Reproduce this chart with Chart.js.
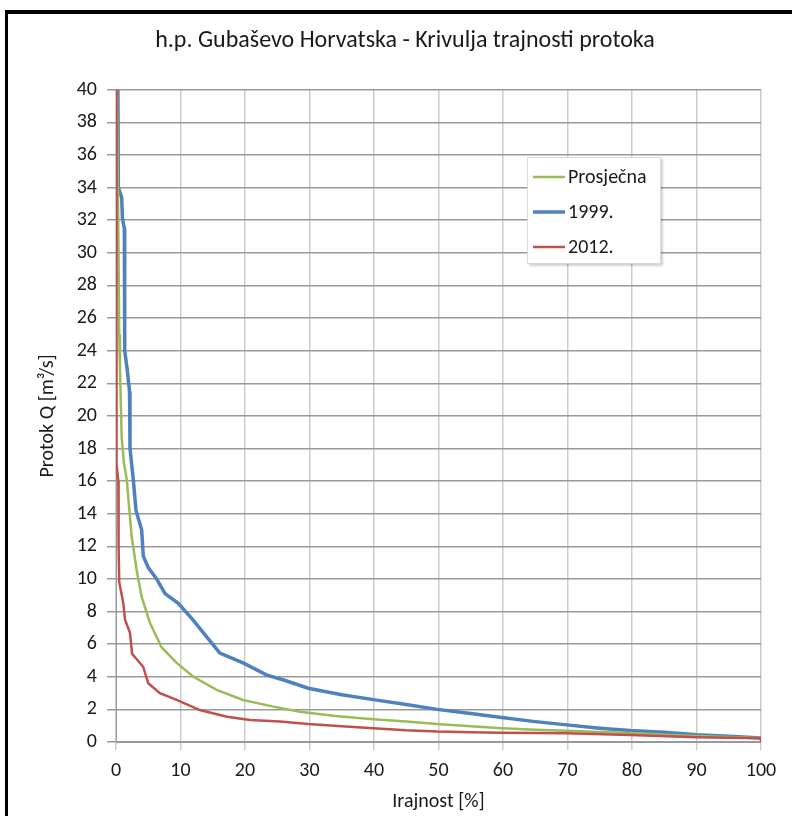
<!DOCTYPE html>
<html>
<head>
<meta charset="utf-8">
<script src="https://cdn.jsdelivr.net/npm/chart.js@4.4.0/dist/chart.umd.min.js"></script>
<style>
  body { margin: 0; background: #fff; }
  #wrap { position: relative; width: 792px; height: 816px; overflow: hidden; }
  #frame {
    position: absolute; left: 5px; top: 10px; width: 820px; height: 830px;
    border-top: 4px solid #000; border-left: 3px solid #000;
    pointer-events: none;
  }
  canvas { position: absolute; left: 0; top: 0; }
</style>
</head>
<body>
<div id="wrap">
  <canvas id="chart" width="792" height="816"></canvas>
  <div id="frame"></div>
</div>
<script>
// duration (%) and flow Q (m3/s)
const avgX = [0.15, 0.3, 0.5, 0.62, 0.88, 1.2, 1.66, 2.43, 3.2, 3.98, 5.27, 7.09, 9.4, 12.0, 15.6, 19.7, 24.4, 28.5, 34, 39.9, 45, 49.8, 55, 59.8, 65, 69.9, 75, 79.7, 85, 90, 95, 100];
const avgQ = [40, 34, 25, 22.8, 18.7, 17.2, 16.1, 12.6, 10.55, 8.9, 7.3, 5.8, 4.85, 4.0, 3.2, 2.58, 2.17, 1.86, 1.6, 1.4, 1.25, 1.1, 0.97, 0.85, 0.75, 0.69, 0.62, 0.55, 0.45, 0.37, 0.3, 0.25];

const x1999 = [0.3, 0.36, 0.88, 1.0, 1.29, 1.35, 1.75, 2.1, 2.17, 2.68, 3.1, 3.98, 4.23, 5.0, 6.3, 7.6, 9.66, 11.9, 14.06, 16.1, 19.7, 23.4, 26, 29.8, 35, 39.9, 45, 49.8, 55, 59.8, 65, 69.9, 75, 79.7, 85, 90, 95, 100];
const q1999 = [40, 34, 33.4, 32.1, 31.5, 24, 22.8, 21.5, 18, 16.1, 14.2, 13.0, 11.4, 10.7, 10, 9.1, 8.5, 7.5, 6.45, 5.45, 4.85, 4.1, 3.8, 3.3, 2.9, 2.6, 2.3, 2.0, 1.75, 1.5, 1.25, 1.05, 0.85, 0.7, 0.6, 0.45, 0.35, 0.25];

const x2012 = [0, 0.05, 0.1, 0.1, 0.36, 0.4, 0.5, 0.9, 1.13, 1.4, 2.17, 2.5, 2.95, 4.23, 5.0, 6.8, 9.4, 13, 17.2, 20.8, 25.4, 29.8, 35, 39.9, 45, 49.8, 55, 59.8, 69.9, 79.7, 90, 100, 100];
const q2012 = [40, 22, 20.5, 17, 16, 12, 9.8, 9, 8.5, 7.5, 6.7, 5.4, 5.2, 4.6, 3.6, 3.0, 2.58, 1.96, 1.55, 1.35, 1.25, 1.1, 0.97, 0.85, 0.72, 0.64, 0.6, 0.57, 0.53, 0.43, 0.29, 0.23, 0];

const seriesNames = ["Prosječna", "1999.", "2012."];
const xTicks = [0, 10, 20, 30, 40, 50, 60, 70, 80, 90, 100];
const yTicks = [0, 2, 4, 6, 8, 10, 12, 14, 16, 18, 20, 22, 24, 26, 28, 30, 32, 34, 36, 38, 40];

const FONT = "Carlito, Lato, sans-serif";

function pts(xs, qs) {
  return xs.map((x, i) => ({ x: x, y: qs[i] }));
}

// legend box inside the plot, like the original
const boxLegend = {
  id: "boxLegend",
  afterDatasetsDraw(chart) {
    const ctx = chart.ctx;
    const bx = 527, by = 157, bw = 134, bh = 107;
    ctx.save();
    ctx.shadowColor = "rgba(0,0,0,0.18)";
    ctx.shadowOffsetX = 2;
    ctx.shadowOffsetY = 2;
    ctx.shadowBlur = 2;
    ctx.fillStyle = "#fff";
    ctx.fillRect(bx, by, bw, bh);
    ctx.restore();
    ctx.save();
    ctx.strokeStyle = "#d9d9d9";
    ctx.lineWidth = 1;
    ctx.strokeRect(bx + 0.5, by + 0.5, bw - 1, bh - 1);
    ctx.font = "20px " + FONT;
    ctx.textBaseline = "middle";
    ctx.fillStyle = "#1a1a1a";
    chart.data.datasets.forEach((ds, i) => {
      const y = 177 + i * 35;
      ctx.strokeStyle = ds.borderColor;
      ctx.lineWidth = ds.borderWidth;
      ctx.beginPath();
      ctx.moveTo(533, y);
      ctx.lineTo(565, y);
      ctx.stroke();
      ctx.fillText(ds.label, 568, y + 1);
    });
    ctx.restore();
  }
};

new Chart(document.getElementById("chart"), {
  type: "scatter",
  data: {
    datasets: [
      { label: seriesNames[0], data: pts(avgX, avgQ), borderColor: "#9bbb59", borderWidth: 2.5, order: 1 },
      { label: seriesNames[1], data: pts(x1999, q1999), borderColor: "#4f81bd", borderWidth: 3.5, order: 2 },
      { label: seriesNames[2], data: pts(x2012, q2012), borderColor: "#c0504d", borderWidth: 2.5, order: 0 }
    ].map(d => Object.assign(d, { showLine: true, pointRadius: 0, tension: 0, fill: false }))
  },
  options: {
    responsive: false,
    animation: false,
    layout: { padding: { left: 0, right: -18, top: 0, bottom: 0 } },
    plugins: {
      legend: { display: false },
      tooltip: { enabled: false },
      title: {
        display: true,
        text: "h.p. Gubaševo Horvatska - Krivulja trajnosti protoka",
        color: "#1a1a1a",
        font: { family: FONT, size: 24, weight: "normal" },
        padding: { top: 27, bottom: 34 }
      }
    },
    scales: {
      x: {
        type: "linear",
        min: 0, max: 100,
        afterBuildTicks: s => { s.ticks = xTicks.map(v => ({ value: v })); },
        afterFit: s => { s.height = 74; },
        grid: { color: "#cccccc", lineWidth: 1.5, tickLength: 8, drawTicks: true },
        border: { color: "#999999" },
        ticks: { color: "#1a1a1a", padding: 9, font: { family: FONT, size: 20 }, maxRotation: 0 },
        title: {
          display: true, text: "Irajnost [%]", color: "#1a1a1a",
          font: { family: FONT, size: 20 }, padding: { top: 0, bottom: 2 }
        }
      },
      y: {
        min: 0, max: 40,
        afterBuildTicks: s => { s.ticks = yTicks.map(v => ({ value: v })); },
        afterFit: s => { s.width = 116; },
        grid: { color: "#999999", lineWidth: 1.5, tickLength: 9, drawTicks: true },
        border: { color: "#999999" },
        ticks: { color: "#1a1a1a", padding: 10, font: { family: FONT, size: 20 } },
        title: {
          display: true, text: "Protok Q [m³/s]", color: "#1a1a1a",
          font: { family: FONT, size: 20 }, padding: { top: 36, bottom: 0 }
        }
      },
      // empty right-hand box so the title centres like the original
      pad: {
        type: "linear", position: "right", display: true,
        grid: { display: false }, border: { display: false },
        ticks: { display: false },
        afterFit: s => { s.width = 49; }
      }
    }
  },
  plugins: [boxLegend]
});
</script>
</body>
</html>
